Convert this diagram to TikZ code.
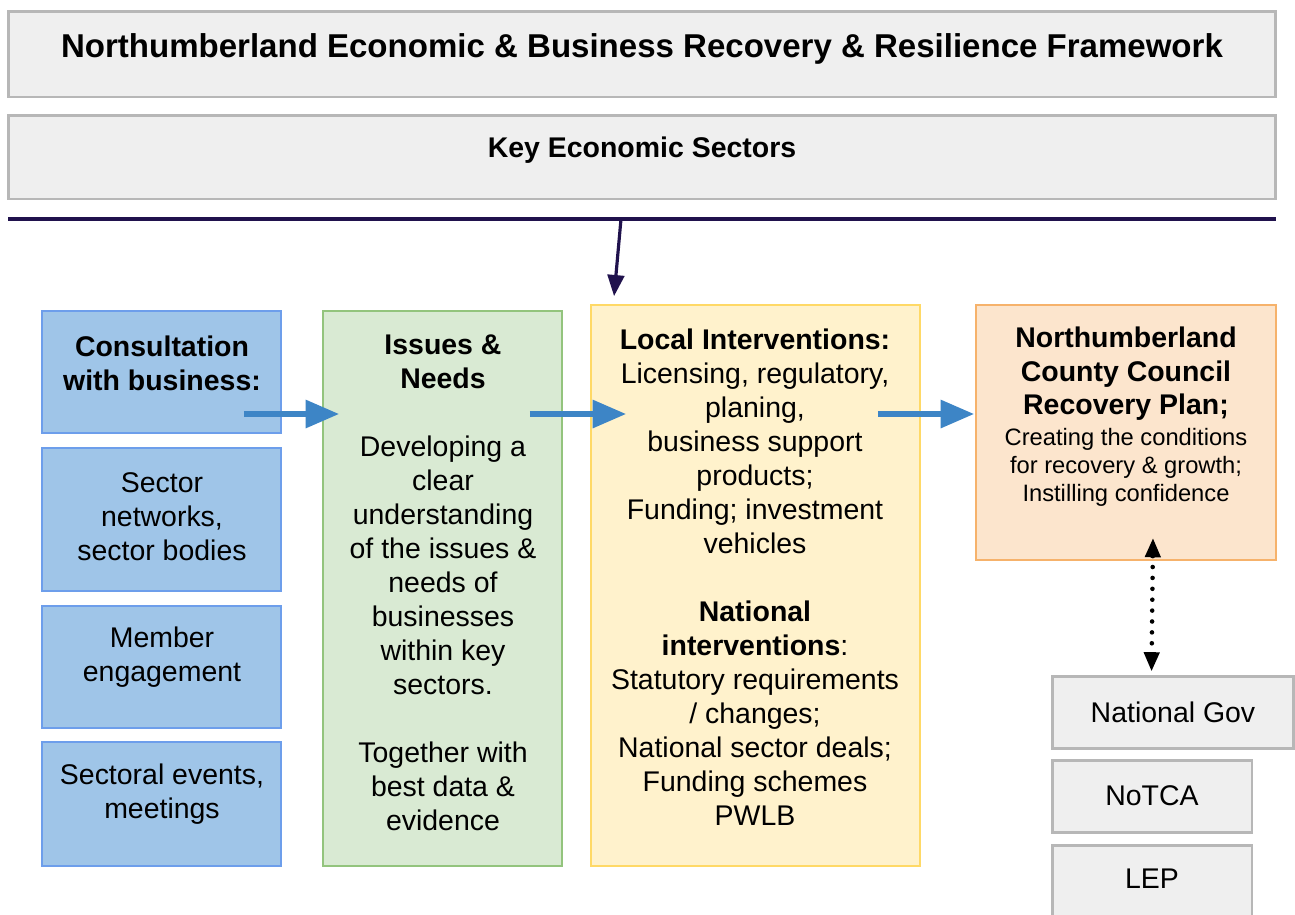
\documentclass[tikz,border=0pt]{standalone}
\usepackage{fontspec}
\setmainfont{Liberation Sans}
\usetikzlibrary{arrows.meta,calc}
\definecolor{boxgray}{HTML}{EFEFEF}
\definecolor{boxgrayline}{HTML}{B7B7B7}
\definecolor{consultblue}{HTML}{9FC5E8}
\definecolor{consultline}{HTML}{6D9EEB}
\definecolor{needsgreen}{HTML}{D9EAD3}
\definecolor{needsline}{HTML}{93C47D}
\definecolor{actionyellow}{HTML}{FFF2CC}
\definecolor{actionline}{HTML}{FFD966}
\definecolor{planorange}{HTML}{FCE5CD}
\definecolor{planline}{HTML}{F6B26B}
\definecolor{flowblue}{HTML}{3D85C6}
\definecolor{rulenavy}{HTML}{20124D}
\tikzstyle{graybox} = [draw=boxgrayline, fill=boxgray, line width=1.7pt, rectangle, inner sep=0pt]
\tikzstyle{bluebox} = [draw=consultline, fill=consultblue, line width=1.1pt, rectangle, inner sep=0pt]
\tikzstyle{greenbox} = [draw=needsline, fill=needsgreen, line width=1.1pt, rectangle, inner sep=0pt]
\tikzstyle{yellowbox} = [draw=actionline, fill=actionyellow, line width=1.1pt, rectangle, inner sep=0pt]
\tikzstyle{orangebox} = [draw=planline, fill=planorange, line width=1.1pt, rectangle, inner sep=0pt]
\tikzstyle{bodytext} = [align=center, inner sep=0pt, font=\fontsize{16.2}{19.35}\selectfont]
\tikzstyle{flowarrow} = [draw=flowblue, line width=3pt, -{Triangle[length=19pt,width=15.5pt]}]
\tikzstyle{navyarrow} = [draw=rulenavy, line width=1.8pt, -{Triangle[length=12pt,width=9.5pt]}]
\tikzstyle{linkarrow} = [draw=black, line width=2.6pt, line cap=round, dash pattern=on 0pt off 6.2pt,
    {Triangle[length=11pt,width=8.5pt]}-{Triangle[length=11pt,width=8.5pt]}]

\begin{document}
\begin{tikzpicture}[x=0.02cm, y=-0.02cm]
\clip (0,0) rectangle (1295,914);
\fill[white] (0,0) rectangle (1295,914);

\node[graybox, minimum width=25.36cm, minimum height=1.72cm] (framework) at (642,54) {};
\node[bodytext, font=\fontsize{18.8}{22}\selectfont\bfseries] (frameworktxt) at (642,49)
    {Northumberland Economic \& Business Recovery \& Resilience Framework};
\node[graybox, minimum width=25.36cm, minimum height=1.68cm] (sectors) at (642,157) {};
\node[bodytext, font=\fontsize{16.2}{19.35}\selectfont\bfseries] (sectorstxt) at (642,150) {Key Economic Sectors};

\coordinate (rulewest) at (8,219);
\coordinate (ruleeast) at (1276,219);
\coordinate (rulefork) at (621,219);
\draw[draw=rulenavy, line width=1.8pt] (rulewest) -- (ruleeast);

\node[bluebox, minimum width=4.78cm, minimum height=2.44cm] (consult) at (161.5,372) {};
\node[bluebox, minimum width=4.78cm, minimum height=2.86cm] (networks) at (161.5,519.5) {};
\node[bluebox, minimum width=4.78cm, minimum height=2.44cm] (members) at (161.5,667) {};
\node[bluebox, minimum width=4.78cm, minimum height=2.48cm] (events) at (161.5,804) {};
\node[greenbox, minimum width=4.78cm, minimum height=11.1cm] (needs) at (442.5,588.5) {};
\node[yellowbox, minimum width=6.58cm, minimum height=11.22cm] (interv) at (755.5,585.5) {};
\node[orangebox, minimum width=6cm, minimum height=5.1cm] (plan) at (1126,432.5) {};
\node[graybox, minimum width=4.84cm, minimum height=1.44cm] (natgov) at (1173,712) {};
\node[graybox, minimum width=4cm, minimum height=1.44cm] (notca) at (1152,796) {};
\node[graybox, minimum width=4cm, minimum height=1.44cm] (lep) at (1152,881) {};

\node[bodytext, font=\fontsize{16.2}{19.35}\selectfont\bfseries] (consulttxt) at (162,363)
    {Consultation\\with business:};
\node[bodytext] (networkstxt) at (162,517) {Sector\\networks,\\sector bodies};
\node[bodytext] (memberstxt) at (162,657) {Member\\engagement};
\node[bodytext] (eventstxt) at (162,794) {Sectoral events,\\meetings};
\node[bodytext] (needstxt) at (443,583) {\textbf{Issues \&}\\\textbf{Needs}\\[19.35pt]Developing a\\clear\\understanding\\of the issues \&\\needs of\\businesses\\within key\\sectors.\\[19.35pt]Together with\\best data \&\\evidence};
\node[bodytext] (intervtxt) at (755,577) {\textbf{Local Interventions:}\\Licensing, regulatory,\\planing,\\business support\\products;\\Funding; investment\\vehicles\\[19.35pt]\textbf{National}\\\textbf{interventions}:\\Statutory requirements\\/ changes;\\National sector deals;\\Funding schemes\\PWLB};
\node[bodytext, font=\fontsize{16.2}{19}\selectfont\bfseries] (plantitle) at (1126,374)
    {Northumberland\\County Council\\Recovery Plan;};
\node[bodytext, font=\fontsize{13.5}{15.9}\selectfont] (plantxt) at (1126,467)
    {Creating the conditions\\for recovery \& growth;\\Instilling confidence};
\node[bodytext] (natgovtxt) at (1173,712) {National Gov};
\node[bodytext] (notcatxt) at (1152,796) {NoTCA};
\node[bodytext] (leptxt) at (1152,879) {LEP};

\coordinate (forktip) at ($(interv.north west)+(24,-8)$);
\draw[navyarrow] (rulefork) -- (forktip);
\draw[flowarrow] ($(consult.east |- 0,414)+(-38,0)$) -- ($(needs.west |- 0,414)+(17,0)$);
\draw[flowarrow] ($(needs.east |- 0,414)+(-33,0)$) -- ($(interv.west |- 0,414)+(36,0)$);
\draw[flowarrow] ($(interv.east |- 0,414)+(-43,0)$) -- ($(plan.west |- 0,414)+(-1,0)$);
\draw[linkarrow] ($(plan.south)+(27,-23)$) -- ($(natgov.north west)+(101,-3)$);
\end{tikzpicture}
\end{document}
